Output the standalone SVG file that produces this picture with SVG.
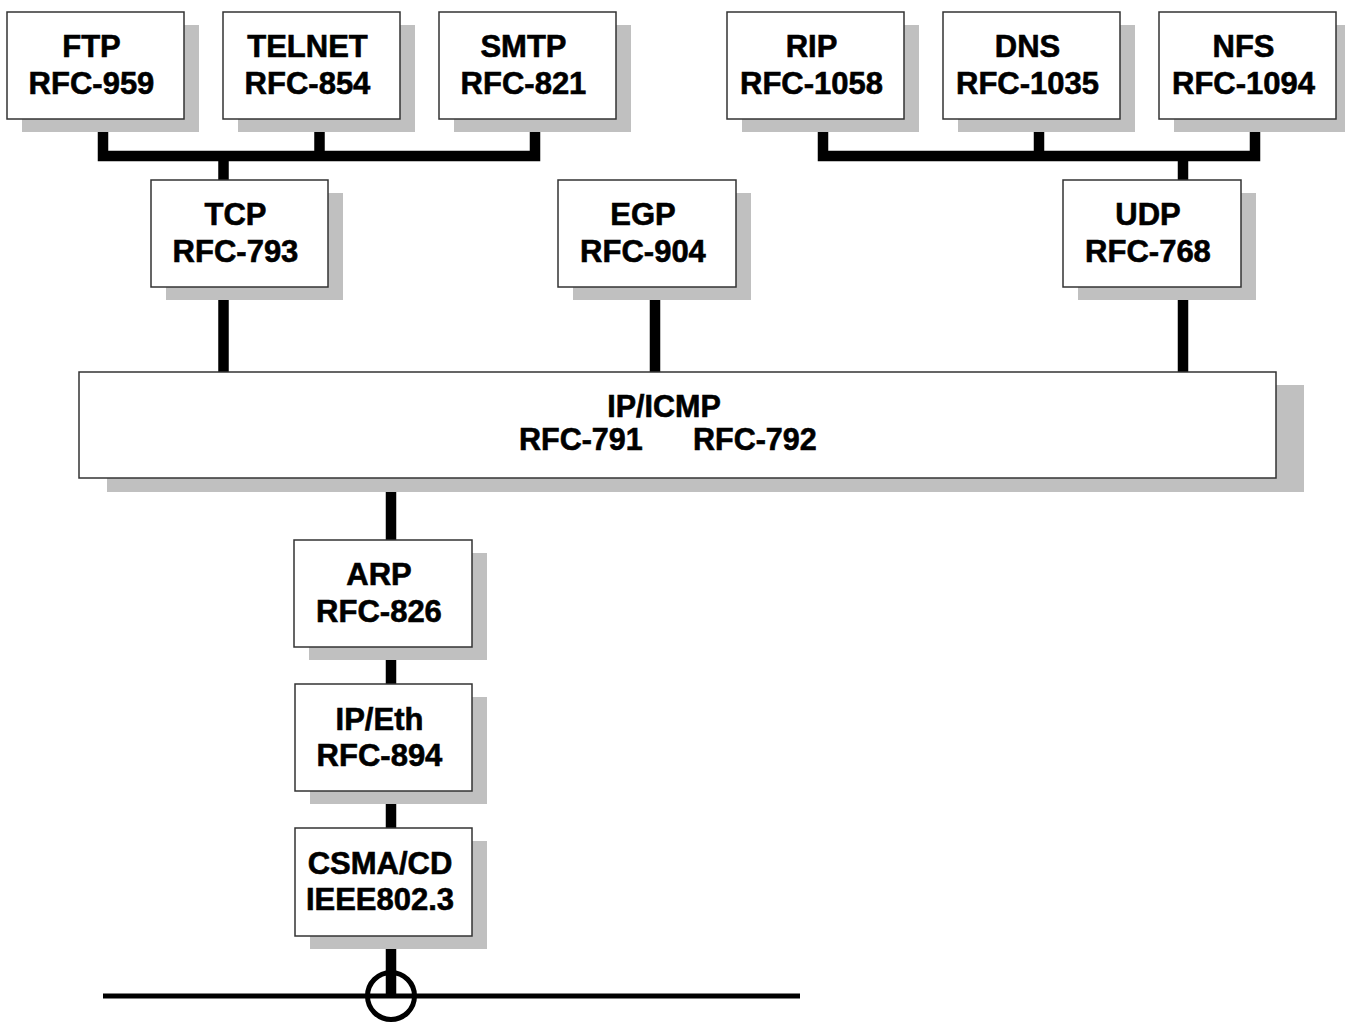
<svg xmlns="http://www.w3.org/2000/svg" width="1345" height="1024" viewBox="0 0 1345 1024">
  <style>
    .shadow { fill: #c0c0c0; }
    .box { fill: #ffffff; stroke: #333333; stroke-width: 1.5; }
    .label { font-family: "Liberation Sans", Arial, Helvetica, sans-serif; font-weight: bold; font-size: 31px; fill: #000000; stroke: #000000; stroke-width: 0.6; text-anchor: middle; }
    .bus { fill: none; stroke: #000000; stroke-width: 10.5; stroke-linejoin: miter; stroke-linecap: butt; }
    .wire { fill: none; stroke: #000000; stroke-width: 5; }
  </style>
  <rect width="1345" height="1024" fill="#ffffff"/>

  <!-- connectors are drawn first so the shadows and boxes sit on top of them -->
  <g id="connectors">
    <!-- application bus over TCP -->
    <polyline class="bus" points="103,125 103,156 535,156 535,125"/>
    <line class="bus" x1="319.5" y1="125" x2="319.5" y2="156"/>
    <line class="bus" x1="223.5" y1="156" x2="223.5" y2="185"/>
    <!-- application bus over UDP -->
    <polyline class="bus" points="823,125 823,156 1255,156 1255,125"/>
    <line class="bus" x1="1039" y1="125" x2="1039" y2="156"/>
    <line class="bus" x1="1183" y1="156" x2="1183" y2="185"/>
    <!-- transport to IP -->
    <line class="bus" x1="223.5" y1="290" x2="223.5" y2="376"/>
    <line class="bus" x1="655" y1="290" x2="655" y2="376"/>
    <line class="bus" x1="1183" y1="290" x2="1183" y2="376"/>
    <!-- IP down to the wire -->
    <line class="bus" x1="391" y1="480" x2="391" y2="544"/>
    <line class="bus" x1="391" y1="650" x2="391" y2="688"/>
    <line class="bus" x1="391" y1="794" x2="391" y2="832"/>
    <line class="bus" x1="391" y1="940" x2="391" y2="996"/>
    <!-- ethernet segment and transceiver tap -->
    <line class="wire" x1="103" y1="996" x2="800" y2="996"/>
    <circle class="wire" cx="391" cy="996" r="23.5"/>
  </g>

  <g id="ftp">
    <rect class="shadow" x="22" y="25" width="177" height="107"/>
    <rect class="box" x="7" y="12" width="177" height="107"/>
    <text class="label" x="91.5" y="57">FTP</text>
    <text class="label" x="91.5" y="94">RFC-959</text>
  </g>
  <g id="telnet">
    <rect class="shadow" x="238" y="25" width="177" height="107"/>
    <rect class="box" x="223" y="12" width="177" height="107"/>
    <text class="label" x="307.5" y="57">TELNET</text>
    <text class="label" x="307.5" y="94">RFC-854</text>
  </g>
  <g id="smtp">
    <rect class="shadow" x="454" y="25" width="177" height="107"/>
    <rect class="box" x="439" y="12" width="177" height="107"/>
    <text class="label" x="523.5" y="57">SMTP</text>
    <text class="label" x="523.5" y="94">RFC-821</text>
  </g>
  <g id="rip">
    <rect class="shadow" x="742" y="25" width="177" height="107"/>
    <rect class="box" x="727" y="12" width="177" height="107"/>
    <text class="label" x="811.5" y="57">RIP</text>
    <text class="label" x="811.5" y="94">RFC-1058</text>
  </g>
  <g id="dns">
    <rect class="shadow" x="958" y="25" width="177" height="107"/>
    <rect class="box" x="943" y="12" width="177" height="107"/>
    <text class="label" x="1027.5" y="57">DNS</text>
    <text class="label" x="1027.5" y="94">RFC-1035</text>
  </g>
  <g id="nfs">
    <rect class="shadow" x="1174" y="25" width="177" height="107"/>
    <rect class="box" x="1159" y="12" width="177" height="107"/>
    <text class="label" x="1243.5" y="57">NFS</text>
    <text class="label" x="1243.5" y="94">RFC-1094</text>
  </g>

  <g id="tcp">
    <rect class="shadow" x="166" y="193" width="177" height="107"/>
    <rect class="box" x="151" y="180" width="177" height="107"/>
    <text class="label" x="235.5" y="225">TCP</text>
    <text class="label" x="235.5" y="262">RFC-793</text>
  </g>
  <g id="egp">
    <rect class="shadow" x="573" y="193" width="178" height="107"/>
    <rect class="box" x="558" y="180" width="178" height="107"/>
    <text class="label" x="643" y="225">EGP</text>
    <text class="label" x="643" y="262">RFC-904</text>
  </g>
  <g id="udp">
    <rect class="shadow" x="1078" y="193" width="178" height="107"/>
    <rect class="box" x="1063" y="180" width="178" height="107"/>
    <text class="label" x="1148" y="225">UDP</text>
    <text class="label" x="1148" y="262">RFC-768</text>
  </g>

  <g id="ip-icmp">
    <rect class="shadow" x="107" y="385" width="1197" height="107"/>
    <rect class="box" x="79" y="372" width="1197" height="106"/>
    <text class="label" x="664" y="417" style="font-size:30.5px">IP/ICMP</text>
    <text class="label" y="450" style="font-size:30.5px;text-anchor:start"><tspan x="519">RFC-791</tspan><tspan x="693">RFC-792</tspan></text>
  </g>

  <g id="arp">
    <rect class="shadow" x="309" y="553" width="178" height="107"/>
    <rect class="box" x="294" y="540" width="178" height="107"/>
    <text class="label" x="379" y="585">ARP</text>
    <text class="label" x="379" y="622">RFC-826</text>
  </g>
  <g id="ip-eth">
    <rect class="shadow" x="310" y="697" width="177" height="107"/>
    <rect class="box" x="295" y="684" width="177" height="107"/>
    <text class="label" x="379.5" y="730">IP/Eth</text>
    <text class="label" x="379.5" y="766">RFC-894</text>
  </g>
  <g id="csma-cd">
    <rect class="shadow" x="310" y="841" width="177" height="108"/>
    <rect class="box" x="295" y="828" width="177" height="108"/>
    <text class="label" x="380" y="874">CSMA/CD</text>
    <text class="label" x="380" y="910">IEEE802.3</text>
  </g>
</svg>
